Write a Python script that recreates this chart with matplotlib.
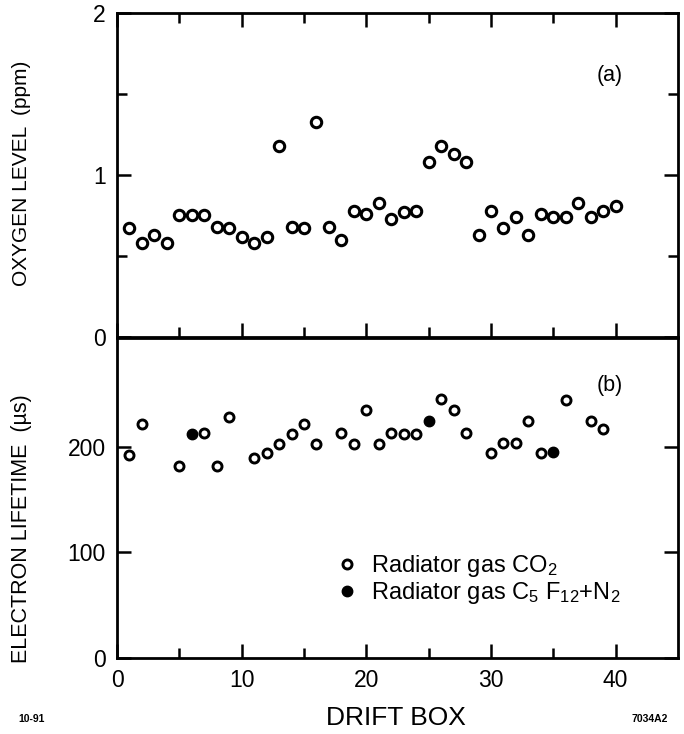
import matplotlib
matplotlib.use("Agg")
import matplotlib.pyplot as plt
from matplotlib.lines import Line2D
from matplotlib.ticker import FixedLocator

plt.rcParams['font.family'] = ['Liberation Sans', 'DejaVu Sans']
plt.rcParams['mathtext.fontset'] = 'custom'
plt.rcParams['mathtext.rm'] = 'Liberation Sans'

# ---- data ----
# (a) oxygen level (ppm) per drift box
oxy_box = list(range(1, 41))
oxy_ppm = [0.67, 0.58, 0.63, 0.58, 0.75, 0.75, 0.75, 0.68, 0.67, 0.62,
           0.58, 0.62, 1.18, 0.68, 0.67, 1.33, 0.68, 0.60, 0.78, 0.76,
           0.83, 0.73, 0.77, 0.78, 1.08, 1.18, 1.13, 1.08, 0.63, 0.78,
           0.67, 0.74, 0.63, 0.76, 0.74, 0.74, 0.83, 0.74, 0.78, 0.81]

# (b) electron lifetime (us), radiator gas CO2
co2_box = [1, 2, 5, 7, 8, 9, 11, 12, 13, 14, 15, 16, 18, 19, 20, 21, 22, 23,
           24, 26, 27, 28, 30, 31, 32, 33, 34, 36, 38, 39]
co2_life = [192, 222, 182, 213, 182, 228, 189, 194, 203, 212, 222, 203, 213,
            203, 235, 203, 213, 212, 212, 245, 235, 213, 194, 204, 204, 224,
            194, 244, 224, 217]

# (b) electron lifetime (us), radiator gas C5F12+N2
c5_box = [6, 25, 35]
c5_life = [212, 224, 195]

x_ticks = [0, 10, 20, 30, 40]
oxy_ticks = [0, 1, 2]
life_ticks = [0, 100, 200]

fig = plt.figure(figsize=(6.84, 7.34), dpi=100)
W, H = 684.0, 734.0
L, R = 117, 678
ax1 = fig.add_axes([L / W, 1 - 337 / H, (R - L) / W, (337 - 13) / H])
ax2 = fig.add_axes([L / W, 1 - 658 / H, (R - L) / W, (658 - 338) / H])

for ax in (ax1, ax2):
    for s in ax.spines.values():
        s.set_linewidth(2.0)
    ax.set_xlim(0, 45)
    ax.xaxis.set_major_locator(FixedLocator(x_ticks))
    ax.xaxis.set_minor_locator(FixedLocator([5, 15, 25, 35]))
    ax.tick_params(which='major', direction='in', length=10, width=1.8,
                   labelsize=16.5, pad=8)
    ax.tick_params(which='minor', direction='in', length=7, width=1.8)

# top panel
ax1.plot(oxy_box, oxy_ppm, 'o', ms=7.5, mfc='white', mec='black', mew=2.2,
         linestyle='none')
ax1.set_ylim(0, 2)
ax1.yaxis.set_major_locator(FixedLocator(oxy_ticks))
ax1.yaxis.set_minor_locator(FixedLocator([0.5, 1.5]))
ax1.tick_params(axis='x', which='both', top=True, bottom=True, labelbottom=False)
ax1.tick_params(axis='y', which='both', left=True, right=True)

# bottom panel
ax2.plot(co2_box, co2_life, 'o', ms=6.5, mfc='white', mec='black', mew=2.1,
         linestyle='none')
ax2.plot(c5_box, c5_life, 'o', ms=7.5, mfc='black', mec='black', mew=1,
         linestyle='none')
ax2.set_ylim(0, 303)
ax2.yaxis.set_major_locator(FixedLocator(life_ticks))
ax2.tick_params(axis='x', which='both', top=False, bottom=True)
ax2.tick_params(axis='y', which='both', left=True, right=True)

# legend
handles = [Line2D([], [], marker='o', ls='none', ms=6.5, mfc='white', mec='black', mew=2.1),
           Line2D([], [], marker='o', ls='none', ms=7.5, mfc='black', mec='black')]
labels = [r'Radiator gas CO$\mathregular{_2}$',
          r'Radiator gas C$\mathregular{_5}$ F$\mathregular{_{12}}$+N$\mathregular{_2}$']
ax2.legend(handles, labels, loc='upper left', frameon=False, fontsize=17,
           handlelength=0.8, handletextpad=0.6, labelspacing=0.05,
           borderpad=0, borderaxespad=0,
           bbox_to_anchor=(338 / W, 1 - 553 / H), bbox_transform=fig.transFigure)

fig.text(610 / W, 1 - 75 / H, '(a)', fontsize=15.5, ha='center', va='center')
fig.text(610 / W, 1 - 385 / H, '(b)', fontsize=15.5, ha='center', va='center')
fig.text(22 / W, 1 - 173 / H, 'OXYGEN LEVEL  (ppm)', rotation=90,
         ha='center', va='center', fontsize=15)
fig.text(22 / W, 1 - 529 / H, 'ELECTRON LIFETIME  (\u00b5s)', rotation=90,
         ha='center', va='center', fontsize=15.5)
fig.text(396 / W, 1 - 718 / H, 'DRIFT BOX', ha='center', va='center', fontsize=19)
fig.text(18 / W, 1 - 719 / H, '10-91', ha='left', va='center', fontsize=7.5,
         fontweight='bold')
fig.text(668 / W, 1 - 719 / H, '7034A2', ha='right', va='center', fontsize=7.5,
         fontweight='bold')

fig.savefig('out.png', dpi=100)
